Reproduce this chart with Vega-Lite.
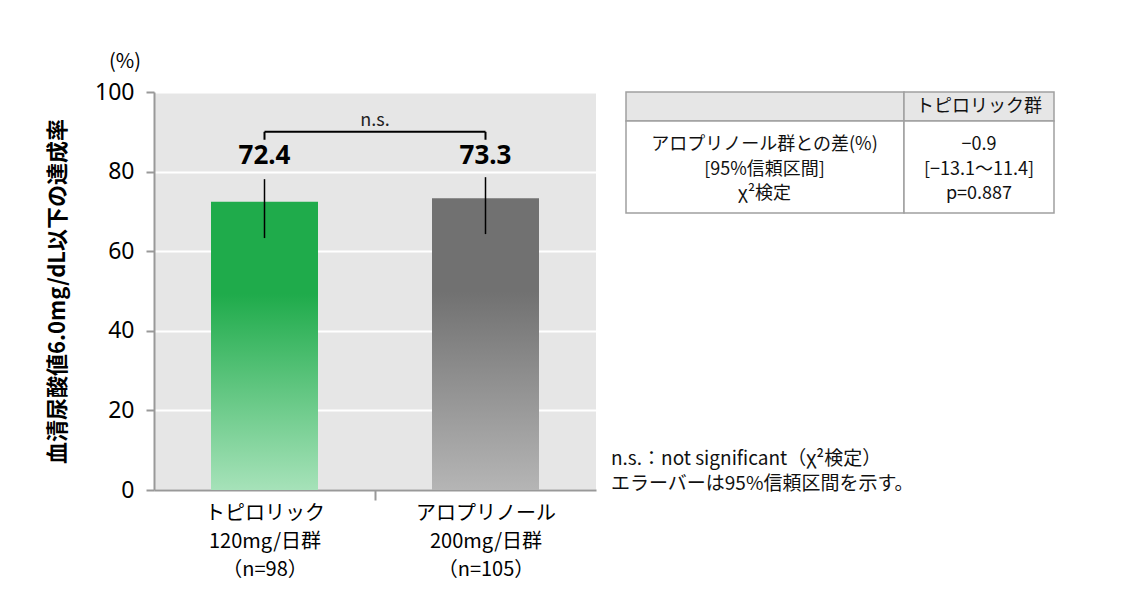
{
  "$schema": "https://vega.github.io/schema/vega-lite/v6.json",
  "background": "white",
  "padding": {"left": 46, "top": 52, "right": 0, "bottom": 30},
  "config": {
    "font": "Noto Sans CJK JP",
    "view": {"stroke": null},
    "concat": {"spacing": 5}
  },
  "datasets": {
    "bars": [
      {"key": "topi", "group": "トピロリック|120mg/日群|（n=98）", "value": 72.4, "lo": 63.3, "hi": 78.1},
      {"key": "allo", "group": "アロプリノール|200mg/日群|（n=105）", "value": 73.3, "lo": 64.3, "hi": 78.6}
    ],
    "bracket": [
      {"from": "トピロリック|120mg/日群|（n=98）", "to": "アロプリノール|200mg/日群|（n=105）", "label": "n.s."}
    ],
    "cells": [
      {"x": 5, "x2": 60.6, "y": 0, "y2": 7.3, "header": true},
      {"x": 60.6, "x2": 90.6, "y": 0, "y2": 7.3, "header": true},
      {"x": 5, "x2": 60.6, "y": 7.3, "y2": 30.4, "header": false},
      {"x": 60.6, "x2": 90.6, "y": 7.3, "y2": 30.4, "header": false}
    ],
    "celltext": [
      {"x": 75.6, "y": 3.8, "text": "トピロリック群", "bold": true},
      {"x": 32.7, "y": 13.3, "text": "アロプリノール群との差(%)", "bold": false},
      {"x": 32.7, "y": 19.6, "text": "[95%信頼区間]", "bold": false},
      {"x": 32.7, "y": 25.6, "text": "χ²検定", "bold": false},
      {"x": 75.6, "y": 13.3, "text": "−0.9", "bold": false},
      {"x": 75.6, "y": 19.6, "text": "[−13.1〜11.4]", "bold": false},
      {"x": 75.6, "y": 25.6, "text": "p=0.887", "bold": false}
    ],
    "notes": [
      {"x": 2, "y": 92.2, "text": "n.s.：not significant（χ²検定）"},
      {"x": 2, "y": 98.5, "text": "エラーバーは95%信頼区間を示す。"}
    ]
  },
  "hconcat": [
    {
      "width": 442,
      "height": 398,
      "title": {"text": "(%)", "anchor": "start", "frame": "group", "dx": -45, "fontSize": 20, "fontWeight": "normal", "offset": 9, "color": "#000"},
      "view": {"fill": "#e6e6e6", "stroke": null},
      "data": {"name": "bars"},
      "encoding": {
        "x": {
          "field": "group", "type": "nominal", "sort": null,
          "scale": {"paddingInner": 0, "paddingOuter": 0},
          "axis": {
            "title": null, "labelAngle": 0,
            "labelExpr": "split(datum.label, '|')",
            "labelFontSize": 20, "labelLineHeight": 28, "labelColor": "#000",
            "labelPadding": 3, "labelOffset": 110.5,
            "domainColor": "#999", "domainWidth": 2,
            "tickSize": 10, "tickWidth": 2, "tickOffset": -110.5,
            "tickColor": {"condition": {"test": "datum.value === 'アロプリノール|200mg/日群|（n=105）'", "value": "#999"}, "value": "transparent"}
          }
        }
      },
      "layer": [
        {
          "transform": [{"filter": "datum.key === 'topi'"}],
          "mark": {"type": "bar", "size": 107, "color": {"gradient": "linear", "x1": 0, "y1": 0, "x2": 0, "y2": 1, "stops": [{"offset": 0, "color": "#1fab4b"}, {"offset": 0.32, "color": "#1fab4b"}, {"offset": 1, "color": "#a6e2b9"}]}},
          "encoding": {
            "y": {
              "field": "value", "type": "quantitative",
              "scale": {"domain": [0, 100]},
              "axis": {
                "values": [0, 20, 40, 60, 80, 100],
                "title": "血清尿酸値6.0mg/dL以下の達成率",
                "titleFontSize": 22, "titleFontWeight": "bold", "titleColor": "#000", "titlePadding": 25,
                "labelFontSize": 23, "labelFont": "Noto Sans", "labelColor": "#000", "labelPadding": 12,
                "domainColor": "#999", "domainWidth": 2,
                "tickColor": "#999", "tickWidth": 2, "tickSize": 8,
                "grid": true, "gridColor": "#ffffff", "gridWidth": 2
              }
            }
          }
        },
        {
          "transform": [{"filter": "datum.key === 'allo'"}],
          "mark": {"type": "bar", "size": 107, "color": {"gradient": "linear", "x1": 0, "y1": 0, "x2": 0, "y2": 1, "stops": [{"offset": 0, "color": "#717171"}, {"offset": 0.32, "color": "#717171"}, {"offset": 1, "color": "#b5b5b5"}]}},
          "encoding": {"y": {"field": "value", "type": "quantitative"}}
        },
        {
          "mark": {"type": "rule", "color": "#000", "strokeWidth": 1.5},
          "encoding": {"y": {"field": "lo", "type": "quantitative"}, "y2": {"field": "hi"}}
        },
        {
          "mark": {"type": "text", "fontSize": 26, "fontWeight": "bold", "font": "Noto Sans", "color": "#000", "baseline": "middle"},
          "encoding": {"y": {"datum": 84}, "text": {"field": "value", "type": "quantitative", "format": ".1f"}}
        },
        {
          "mark": {"type": "rule", "color": "#000", "strokeWidth": 2},
          "encoding": {"y": {"datum": 88}, "y2": {"datum": 90}}
        },
        {
          "data": {"name": "bracket"},
          "mark": {"type": "rule", "color": "#000", "strokeWidth": 2},
          "encoding": {"x": {"field": "from", "type": "nominal"}, "x2": {"field": "to"}, "y": {"datum": 90}}
        },
        {
          "data": {"name": "bracket"},
          "mark": {"type": "text", "fontSize": 18, "color": "#222", "baseline": "middle"},
          "encoding": {"x": {"field": "to", "type": "nominal", "bandPosition": 0}, "y": {"datum": 92.7}, "text": {"field": "label"}}
        }
      ]
    },
    {
      "width": 500,
      "height": 398,
      "title": {"text": " ", "fontSize": 20, "offset": 9},
      "view": {"stroke": null},
      "layer": [
        {
          "data": {"name": "cells"},
          "mark": {"type": "rect", "stroke": "#a0a0a0", "strokeWidth": 1.5},
          "encoding": {
            "x": {"field": "x", "type": "quantitative", "scale": {"domain": [0, 100]}, "axis": null},
            "x2": {"field": "x2"},
            "y": {"field": "y", "type": "quantitative", "scale": {"domain": [0, 100], "reverse": true}, "axis": null},
            "y2": {"field": "y2"},
            "fill": {"condition": {"test": "datum.header", "value": "#e6e6e6"}, "value": "#ffffff"}
          }
        },
        {
          "data": {"name": "celltext"},
          "mark": {"type": "text", "fontSize": 18, "color": "#111", "baseline": "middle", "align": "center"},
          "encoding": {
            "x": {"field": "x", "type": "quantitative"},
            "y": {"field": "y", "type": "quantitative"},
            "text": {"field": "text"},
            "fontWeight": {"condition": {"test": "datum.bold", "value": "bold"}, "value": "normal"}
          }
        },
        {
          "data": {"name": "notes"},
          "mark": {"type": "text", "fontSize": 19, "color": "#111", "baseline": "middle", "align": "left"},
          "encoding": {
            "x": {"field": "x", "type": "quantitative"},
            "y": {"field": "y", "type": "quantitative"},
            "text": {"field": "text"}
          }
        }
      ]
    }
  ]
}
